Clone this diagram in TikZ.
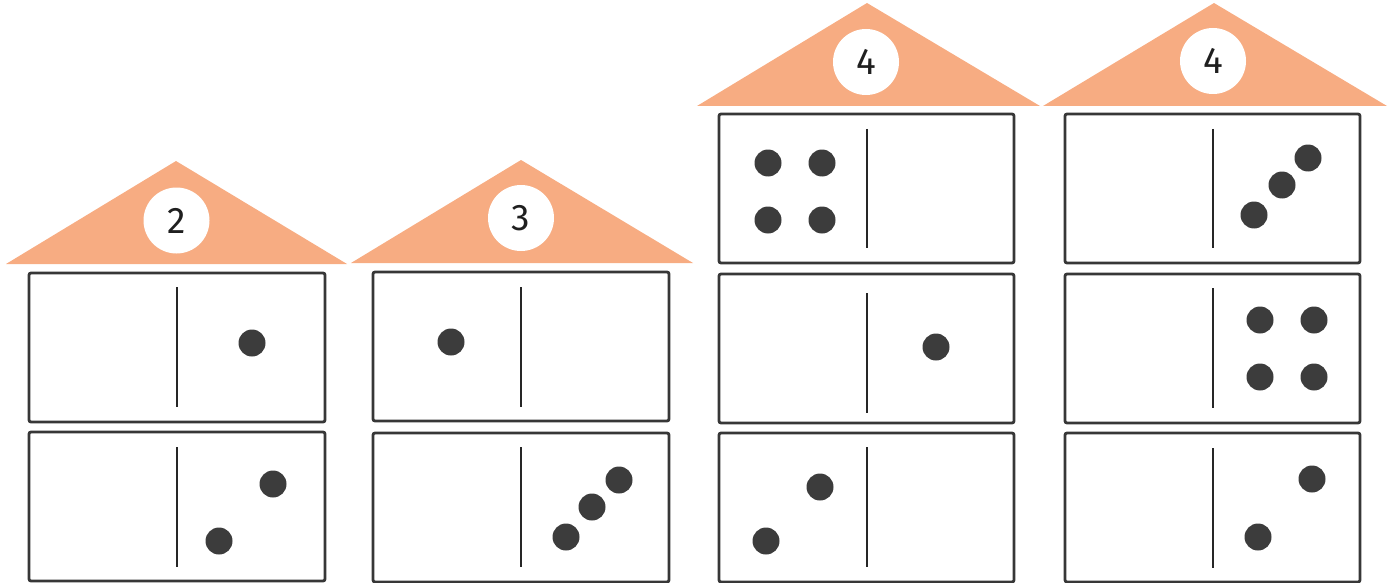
\documentclass[tikz,border=0pt]{standalone}
\usepackage{fontspec}
\setmainfont{Fira Sans}
\definecolor{roof}{RGB}{247,172,130}
\definecolor{ink}{RGB}{55,55,55}
\definecolor{pipc}{RGB}{60,60,60}
\tikzset{
  roofshape/.style={fill=roof, draw=none},
  numcircle/.style={circle, fill=white, draw=none, minimum size=66pt, inner sep=0pt, font=\fontsize{37}{37}\selectfont, text=black!88},
  dombox/.style={draw=ink, line width=2.8pt, rounded corners=2pt, fill=white},
  divline/.style={draw=black!85, line width=2.6pt},
  pip/.style={fill=pipc}
}
\begin{document}
\begin{tikzpicture}[x=1pt,y=-1pt]
\useasboundingbox (0,0) rectangle (1391,583);
% roofs
\fill[roofshape] (6,264) -- (176,161) -- (347,264) -- cycle;
\fill[roofshape] (351,263) -- (521,160) -- (693,263) -- cycle;
\fill[roofshape] (697,106) -- (867,3) -- (1040,106) -- cycle;
\fill[roofshape] (1043,106) -- (1214,3) -- (1387,106) -- cycle;
% numbers
\node[numcircle] (n1) at (176.5,220.5) {2};
\node[numcircle] (n2) at (521,218) {3};
\node[numcircle] (n3) at (866,62) {4};
\node[numcircle] (n4) at (1213,61) {4};
% house 1
\draw[dombox] (29,273) rectangle (325,422);
\draw[divline] (177,287) -- (177,407);
\fill[pip] (252,343) circle (13.5);
\draw[dombox] (29,432) rectangle (325,581);
\draw[divline] (177,447) -- (177,567);
\fill[pip] (219,541) circle (13.5);
\fill[pip] (273,484) circle (13.5);
% house 2
\draw[dombox] (373,272) rectangle (669,421);
\draw[divline] (521,287) -- (521,407);
\fill[pip] (451,342) circle (13.5);
\draw[dombox] (373,433) rectangle (669,582);
\draw[divline] (521,447) -- (521,567);
\fill[pip] (566,537) circle (13.5);
\fill[pip] (592,507) circle (13.5);
\fill[pip] (619,480) circle (13.5);
% house 3
\draw[dombox] (719,114) rectangle (1014,263);
\draw[divline] (867,129) -- (867,248);
\fill[pip] (768,163) circle (13.5);
\fill[pip] (822,163) circle (13.5);
\fill[pip] (768,220) circle (13.5);
\fill[pip] (822,220) circle (13.5);
\draw[dombox] (719,274) rectangle (1014,423);
\draw[divline] (867,293) -- (867,413);
\fill[pip] (936,347) circle (13.5);
\draw[dombox] (719,433) rectangle (1014,582);
\draw[divline] (867,447) -- (867,567);
\fill[pip] (766,541) circle (13.5);
\fill[pip] (820,487) circle (13.5);
% house 4
\draw[dombox] (1065,114) rectangle (1360,263);
\draw[divline] (1213,129) -- (1213,248);
\fill[pip] (1254,215) circle (13.5);
\fill[pip] (1282,185) circle (13.5);
\fill[pip] (1308,158) circle (13.5);
\draw[dombox] (1065,274) rectangle (1360,423);
\draw[divline] (1213,288) -- (1213,408);
\fill[pip] (1260,320) circle (13.5);
\fill[pip] (1314,320) circle (13.5);
\fill[pip] (1260,377) circle (13.5);
\fill[pip] (1314,377) circle (13.5);
\draw[dombox] (1065,433) rectangle (1360,582);
\draw[divline] (1213,448) -- (1213,568);
\fill[pip] (1258,537) circle (13.5);
\fill[pip] (1312,479) circle (13.5);
\end{tikzpicture}
\end{document}
